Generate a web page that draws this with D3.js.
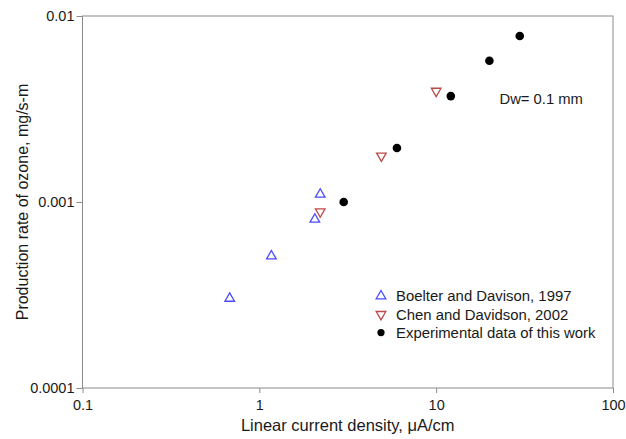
<!DOCTYPE html>
<html>
<head>
<meta charset="utf-8">
<script src="https://cdn.jsdelivr.net/npm/d3@7"></script>
<style>
  body { margin: 0; background: #fff; }
  text { font-family: "Liberation Sans", Arial, sans-serif; fill: #1a1a1a; }
  .axis path, .axis line { stroke: #8a8a8a; }
</style>
</head>
<body>
<div id="wrapper"></div>
<script>
// data
const boelter = [
  { x: 0.68, y: 0.000303 },
  { x: 1.17, y: 0.000512 },
  { x: 2.06, y: 0.000807 },
  { x: 2.21, y: 0.00110 },
]
const chen = [
  { x: 2.21, y: 0.000887 },
  { x: 4.9, y: 0.00177 },
  { x: 10, y: 0.00395 },
]
const experimental = [
  { x: 3, y: 0.00100 },
  { x: 6, y: 0.00195 },
  { x: 12.1, y: 0.00371 },
  { x: 20, y: 0.00575 },
  { x: 29.7, y: 0.0078 },
]
const xTicks = [0.1, 1, 10, 100]
const yTicks = [0.0001, 0.001, 0.01]
const legendLabels = [
  "Boelter and Davison, 1997",
  "Chen and Davidson, 2002",
  "Experimental data of this work",
]

function drawChart() {
  let dimensions = {
    width: 626,
    height: 439,
    margin: { top: 16, right: 13, bottom: 51, left: 82.5 },
  }
  dimensions.boundedWidth = dimensions.width - dimensions.margin.left - dimensions.margin.right
  dimensions.boundedHeight = dimensions.height - dimensions.margin.top - dimensions.margin.bottom

  const wrapper = d3.select("#wrapper")
    .append("svg")
      .attr("width", dimensions.width)
      .attr("height", dimensions.height)

  const bounds = wrapper.append("g")
      .attr("transform", `translate(${dimensions.margin.left},${dimensions.margin.top})`)

  const xScale = d3.scaleLog()
    .domain([0.1, 100])
    .range([0, dimensions.boundedWidth])

  const yScale = d3.scaleLog()
    .domain([0.0001, 0.01])
    .range([dimensions.boundedHeight, 0])

  // frame
  bounds.append("rect")
      .attr("width", dimensions.boundedWidth)
      .attr("height", dimensions.boundedHeight)
      .attr("fill", "none")
      .attr("stroke", "#8a8a8a")

  // axes
  const xAxis = bounds.append("g")
      .attr("class", "axis")
      .attr("transform", `translate(0,${dimensions.boundedHeight})`)
      .call(d3.axisBottom(xScale).tickValues(xTicks).tickFormat(d => String(d)).tickSize(5).tickSizeOuter(0))
  xAxis.select(".domain").remove()
  xAxis.selectAll("text")
      .attr("font-size", 14.5)
      .attr("dy", "0.95em")

  const yAxis = bounds.append("g")
      .attr("class", "axis")
      .call(d3.axisLeft(yScale).tickValues(yTicks).tickFormat(d => String(d)).tickSize(6).tickSizeOuter(0))
  yAxis.select(".domain").remove()
  yAxis.selectAll("text")
      .attr("font-size", 14.5)
      .attr("x", -8)

  // marks
  const triUp = d3.symbol().type(d3.symbolTriangle).size(40)

  bounds.append("g")
    .selectAll("path")
    .data(boelter)
    .join("path")
      .attr("d", triUp)
      .attr("transform", d => `translate(${xScale(d.x)},${yScale(d.y)})`)
      .attr("fill", "none")
      .attr("stroke", "#4a4aff")
      .attr("stroke-width", 1.3)

  bounds.append("g")
    .selectAll("path")
    .data(chen)
    .join("path")
      .attr("d", triUp)
      .attr("transform", d => `translate(${xScale(d.x)},${yScale(d.y)}) rotate(180)`)
      .attr("fill", "none")
      .attr("stroke", "#c04848")
      .attr("stroke-width", 1.3)

  bounds.append("g")
    .selectAll("circle")
    .data(experimental)
    .join("circle")
      .attr("cx", d => xScale(d.x))
      .attr("cy", d => yScale(d.y))
      .attr("r", 4.3)
      .attr("fill", "#000")

  bounds.append("text")
      .attr("x", xScale(22.8))
      .attr("y", yScale(0.00357))
      .attr("dy", "0.35em")
      .attr("font-size", 14.8)
      .text("Dw= 0.1 mm")

  // legend
  const legend = bounds.append("g")
      .attr("transform", `translate(${381 - dimensions.margin.left},${296 - dimensions.margin.top})`)
  const rowGap = 18.3
  legend.append("path")
      .attr("d", triUp)
      .attr("fill", "none")
      .attr("stroke", "#4a4aff")
      .attr("stroke-width", 1.3)
  legend.append("path")
      .attr("d", triUp)
      .attr("transform", `translate(0,${rowGap}) rotate(180)`)
      .attr("fill", "none")
      .attr("stroke", "#c04848")
      .attr("stroke-width", 1.3)
  legend.append("circle")
      .attr("cy", rowGap * 2)
      .attr("r", 3.6)
      .attr("fill", "#000")
  legend.selectAll(".legend-label")
    .data(legendLabels)
    .join("text")
      .attr("class", "legend-label")
      .attr("x", 15)
      .attr("y", (d, i) => i * rowGap)
      .attr("dy", "0.35em")
      .attr("font-size", 14.9)
      .text(d => d)

  // axis labels
  bounds.append("text")
      .attr("x", dimensions.boundedWidth / 2)
      .attr("y", dimensions.boundedHeight + 43)
      .attr("text-anchor", "middle")
      .attr("font-size", 16.5)
      .text("Linear current density, \u03bcA/cm")

  bounds.append("text")
      .attr("transform", `translate(${22 - dimensions.margin.left},${dimensions.boundedHeight / 2}) rotate(-90)`)
      .attr("text-anchor", "middle")
      .attr("dy", "0.35em")
      .attr("font-size", 16)
      .text("Production rate of ozone, mg/s-m")
}
drawChart()
</script>
</body>
</html>
